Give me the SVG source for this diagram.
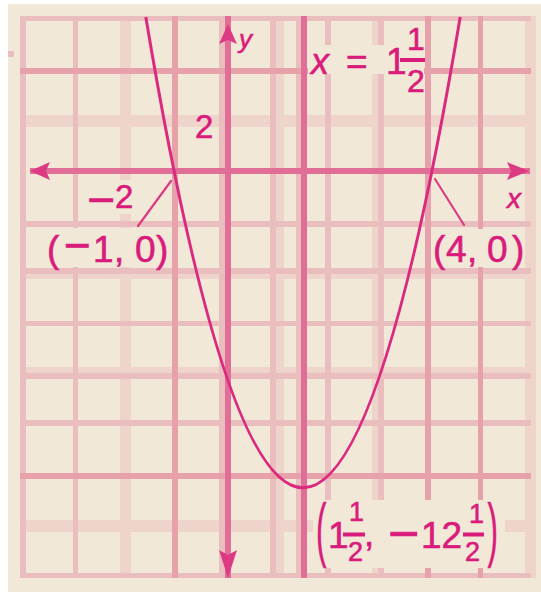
<svg xmlns="http://www.w3.org/2000/svg" width="541" height="592" viewBox="0 0 541 592">
<style>
.lt{fill:#EFD4CC}
.l{fill:#EABDBE}
.m{fill:#E6A1AB}
.d{fill:#E06E97}
.bg{fill:#F2E8D8}
.t{font-family:"Liberation Sans",Arial,sans-serif;fill:#D91C7B;stroke:#D91C7B;stroke-width:0.6}
.v{font-style:italic}
.ld{stroke:#DC3C84;stroke-width:2.2;fill:none;stroke-linecap:round}
.ar{fill:#DD3A84}
.fb{fill:#D91C7B}
</style>
<rect width="541" height="592" fill="#FFFFFF"/>
<rect x="8" y="4" width="533" height="588" class="bg"/>
<rect x="8" y="51" width="6" height="6" class="l"/>
<g id="grid">
  <rect x="120" y="16" width="11" height="562" class="lt"/>
  <rect x="276" y="16" width="8" height="562" class="lt"/>
  <rect x="372" y="16" width="6" height="562" class="lt"/>
  <rect x="525" y="16" width="11" height="562" class="lt"/>
  <rect x="20" y="115" width="511" height="12" class="lt"/>
  <rect x="20" y="274" width="511" height="5" class="lt"/>
  <rect x="20" y="367" width="511" height="6" class="lt"/>
  <rect x="20" y="520" width="511" height="12" class="lt"/>
  <rect x="20" y="16" width="6" height="562" class="l"/>
  <rect x="73" y="16" width="5" height="562" class="l"/>
  <rect x="219" y="16" width="6" height="562" class="l"/>
  <rect x="270" y="16" width="6" height="562" class="l"/>
  <rect x="296" y="16" width="5" height="562" class="l"/>
  <rect x="325" y="16" width="6" height="562" class="l"/>
  <rect x="378" y="16" width="6" height="562" class="l"/>
  <rect x="20" y="16" width="511" height="5" class="l"/>
  <rect x="20" y="221" width="511" height="6" class="l"/>
  <rect x="20" y="268" width="511" height="6" class="l"/>
  <rect x="20" y="321" width="511" height="5" class="l"/>
  <rect x="20" y="373" width="511" height="6" class="l"/>
  <rect x="20" y="420" width="511" height="6" class="l"/>
  <rect x="20" y="573" width="511" height="5" class="l"/>
  <rect x="172" y="16" width="6" height="562" class="m"/>
  <rect x="425" y="16" width="6" height="562" class="m"/>
  <rect x="478" y="16" width="5" height="562" class="m"/>
  <rect x="20" y="68" width="511" height="6" class="m"/>
  <rect x="20" y="473" width="511" height="6" class="m"/>
</g>
<g id="axes">
  <rect x="30" y="168" width="500" height="6" class="d"/>
  <rect x="225" y="16" width="6" height="562" class="d"/>
  <rect x="301" y="16" width="6" height="562" class="d"/>
  <polygon class="ar" points="30,171 50,162 46,171 50,180"/>
  <polygon class="ar" points="529,171 507,162 511,171 507,180"/>
  <polygon class="ar" points="228,24 219,44 228,40 237,44"/>
  <polygon class="ar" points="228,578 219,550 228,555 237,550"/>
</g>
<g id="label-backgrounds">
  <rect x="308" y="45" width="116" height="29" class="bg"/>
  <rect x="88" y="180" width="48" height="34" class="bg"/>
  <rect x="40" y="228" width="130" height="39" class="bg"/>
  <rect x="433" y="229" width="91" height="38" class="bg"/>
  <rect x="313" y="500" width="192" height="68" class="bg"/>
</g>
<g id="parabola">
  <path d="M145.8,17 Q303,958.6 460.2,17" fill="none" stroke="#DA2A7F" stroke-width="3"/>
</g>
<g id="connectors">
  <path class="ld" d="M138,226 L171,181"/>
  <path class="ld" d="M435,179 L464,225"/>
</g>
<g id="axis-labels">
  <text class="t v" x="239" y="48" font-size="26">y</text>
  <text class="t v" x="507" y="208" font-size="28">x</text>
  <text class="t" x="195" y="138" font-size="33">2</text>
  <text class="t" y="216"><tspan x="87" font-size="48">−</tspan></text>
  <text class="t" x="115" y="208" font-size="33">2</text>
</g>
<g id="label-root-left">
  <text class="t" y="262" font-size="37"><tspan x="47">(</tspan><tspan x="64" y="261" font-size="46">−</tspan><tspan x="93" y="262">1</tspan><tspan x="114">,</tspan><tspan x="135">0</tspan><tspan x="156">)</tspan></text>
</g>
<g id="label-root-right">
  <text class="t" y="262" font-size="37"><tspan x="433">(</tspan><tspan x="446">4</tspan><tspan x="467">,</tspan><tspan x="487">0</tspan><tspan x="512">)</tspan></text>
</g>
<g id="label-axis-of-symmetry">
  <text class="t v" x="311" y="74" font-size="36">x</text>
  <text class="t" x="346" y="74" font-size="37">=</text>
  <text class="t" x="386" y="74" font-size="37">1</text>
  <rect class="fb" x="400" y="58" width="25" height="4"/>
  <text class="t" x="407" y="50" font-size="32">1</text>
  <text class="t" x="407" y="92" font-size="32">2</text>
</g>
<g id="label-vertex">
  <text class="t" transform="translate(316,553) scale(0.45,1)" font-size="70">(</text>
  <text class="t" x="328" y="548" font-size="37">1</text>
  <rect class="fb" x="343" y="532.5" width="22" height="4"/>
  <text class="t" x="349" y="521" font-size="27">1</text>
  <text class="t" x="348" y="561" font-size="27">2</text>
  <text class="t" x="364" y="546" font-size="37">,</text>
  <text class="t" x="388" y="552" font-size="54">−</text>
  <text class="t" x="421" y="548" font-size="37">12</text>
  <rect class="fb" x="463" y="532.5" width="21" height="4"/>
  <text class="t" x="469" y="523" font-size="27">1</text>
  <text class="t" x="465" y="561" font-size="27">2</text>
  <text class="t" transform="translate(487.5,553) scale(0.45,1)" font-size="70">)</text>
</g>
</svg>
